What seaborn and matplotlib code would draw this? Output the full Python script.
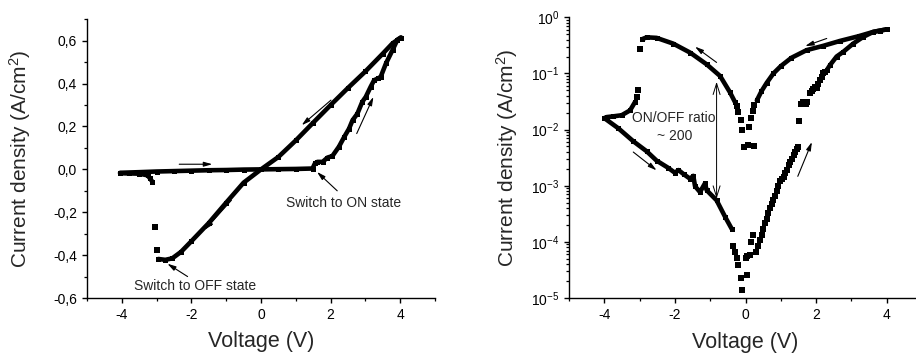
import numpy as np
import pandas as pd
import matplotlib
matplotlib.use("Agg")
import matplotlib.pyplot as plt
import seaborn as sns
from matplotlib.ticker import MultipleLocator, FuncFormatter, LogLocator, NullFormatter

# ---- left panel: linear I-V loop (voltage V, current density A/cm2) ----
off_fwd_v = [-4.05, -3.5, -3.0, -2.5, -2.0, -1.5, -1.0, -0.5, 0.0, 0.5, 1.0, 1.48]
off_fwd_j = [-0.016, -0.013, -0.010, -0.008, -0.006, -0.004, -0.003, -0.001, 0.0, 0.001, 0.002, 0.004]
on_fwd_v = [1.48, 1.55, 1.62, 1.77, 1.91, 2.05, 2.24, 2.39, 2.53, 2.63, 2.77, 2.91, 3.01,
            3.15, 3.25, 3.37, 3.44, 3.59, 3.78, 3.92, 4.02]
on_fwd_j = [0.004, 0.028, 0.035, 0.035, 0.055, 0.062, 0.106, 0.151, 0.19, 0.229, 0.26, 0.315, 0.338,
            0.385, 0.416, 0.425, 0.432, 0.494, 0.557, 0.605, 0.615]
on_rev_v = [4.02, 3.78, 3.5, 3.0, 2.5, 2.0, 1.5, 1.0, 0.5, 0.0, -0.5, -1.0, -1.5, -2.0, -2.3,
            -2.55, -2.75, -2.95]
on_rev_j = [0.615, 0.588, 0.54, 0.457, 0.38, 0.30, 0.218, 0.135, 0.058, 0.0, -0.062, -0.155, -0.25,
            -0.335, -0.385, -0.415, -0.422, -0.418]
off_tail_v = [-3.12, -3.2, -3.26, -3.5, -3.8, -4.05]
off_tail_j = [-0.058, -0.04, -0.028, -0.02, -0.019, -0.018]
jump_v = [-3.0, -3.05]
jump_j = [-0.378, -0.269]

# ---- right panel: same sweep, |J| on log scale ----
r_on_rev_v = [4.0, 3.62, 3.2, 2.68, 2.2, 1.73, 1.3, 1.0, 0.79, 0.6, 0.45, 0.32]
r_on_rev_j = [0.61, 0.55, 0.46, 0.38, 0.31, 0.26, 0.19, 0.135, 0.10, 0.068, 0.048, 0.033]
r_on_mid_v = [0.25, 0.20, 0.16, 0.11, 0.25, 0.06, -0.04, -0.09, -0.14, -0.20, -0.25]
r_on_mid_j = [0.027, 0.0215, 0.0163, 0.011, 0.005, 0.0054, 0.0049, 0.010, 0.015, 0.0205, 0.026]
r_on_neg_v = [-0.30, -0.44, -0.72, -1.1, -1.57, -2.05, -2.52, -2.8, -2.92]
r_on_neg_j = [0.031, 0.046, 0.09, 0.145, 0.235, 0.34, 0.43, 0.44, 0.41]
r_drop_v = [-2.99, -3.04, -3.08]
r_drop_j = [0.268, 0.050, 0.038]
r_tail_v = [-3.13, -3.27, -3.51, -3.75, -3.93, -4.0]
r_tail_j = [0.031, 0.022, 0.018, 0.0172, 0.0167, 0.016]
r_off_v = [-4.0, -3.6, -3.18, -2.8, -2.52, -2.2, -2.0, -1.9, -1.75, -1.57, -1.48, -1.43, -1.29,
           -1.15, -1.10, -0.82, -0.58, -0.39]
r_off_j = [0.016, 0.0105, 0.0062, 0.0041, 0.0028, 0.0021, 0.0017, 0.0019, 0.0016, 0.00133, 0.0015,
           0.00098, 0.00077, 0.0011, 0.00083, 0.00055, 0.00028, 0.00017]
r_low_v = [-0.35, -0.30, -0.25, -0.20, -0.14, -0.09, 0.05, 0.01, 0.04, 0.13, 0.16, 0.20, 0.30, 0.36,
           0.41, 0.46, 0.50, 0.55, 0.60, 0.65, 0.69, 0.74, 0.79, 0.84, 0.88, 0.93, 0.98, 1.03, 1.08,
           1.13, 1.17, 1.22, 1.26, 1.31, 1.36, 1.41, 1.45, 1.48]
r_low_j = [8.3e-5, 6.5e-5, 5.2e-5, 3.8e-5, 2.3e-5, 1.4e-5, 2.6e-5, 5.2e-5, 5.6e-5, 5.9e-5, 9.8e-5,
           1.35e-4, 6.5e-5, 8.3e-5, 1.1e-4, 1.35e-4, 1.7e-4, 2.2e-4, 2.6e-4, 3.3e-4, 4.0e-4, 4.7e-4,
           5.5e-4, 6.6e-4, 8.2e-4, 1.0e-3, 1.2e-3, 1.3e-3, 1.45e-3, 1.7e-3, 1.9e-3, 2.3e-3, 2.7e-3,
           3.0e-3, 3.5e-3, 4.0e-3, 4.5e-3, 4.9e-3]
r_sw_v = [1.52, 1.58, 1.62, 1.66, 1.70, 1.75, 1.83, 1.88, 1.92, 1.97, 2.02, 2.06, 2.11, 2.16, 2.20, 2.25]
r_sw_j = [0.0145, 0.029, 0.031, 0.030, 0.029, 0.031, 0.045, 0.048, 0.052, 0.058, 0.056, 0.065,
          0.076, 0.088, 0.10, 0.107]
r_on_fwd_v = [2.3, 2.39, 2.58, 2.77, 3.05, 3.34, 3.62, 3.81, 4.0]
r_on_fwd_j = [0.114, 0.14, 0.20, 0.243, 0.34, 0.45, 0.55, 0.58, 0.61]

sns.set_style("ticks")
plt.rcParams["font.family"] = ["Liberation Sans", "DejaVu Sans"]
plt.rcParams["mathtext.fontset"] = "custom"
plt.rcParams["mathtext.rm"] = "Liberation Sans"
plt.rcParams["mathtext.it"] = "Liberation Sans:italic"
plt.rcParams.update({
    "axes.unicode_minus": False,
    "axes.linewidth": 1.0, "axes.edgecolor": "black",
    "xtick.major.size": 3.6, "ytick.major.size": 3.6,
    "xtick.minor.size": 2.2, "ytick.minor.size": 2.2,
    "xtick.major.width": 1.0, "ytick.major.width": 1.0,
    "xtick.minor.width": 0.9, "ytick.minor.width": 0.9,
    "xtick.color": "black", "ytick.color": "black",
    "xtick.labelsize": 10, "ytick.labelsize": 10,
})

fig = plt.figure(figsize=(9.16, 3.53), dpi=100)
ax1 = fig.add_axes([0.0950, 0.1558, 0.3799, 0.7895])
ax2 = fig.add_axes([0.6212, 0.1558, 0.3854, 0.7952])


def dense(ax, x, y):
    sns.lineplot(x=x, y=y, ax=ax, sort=False, estimator=None, color="black", lw=3.3,
                 marker="s", ms=3.6, mew=0, legend=False)


def sparse(ax, x, y):
    sns.scatterplot(x=x, y=y, ax=ax, marker="s", s=13, color="black", linewidth=0, legend=False)


def arrow(ax, start, end, style="-|>,head_length=0.5,head_width=0.14", lw=0.8):
    ax.annotate("", xy=end, xytext=start,
                arrowprops=dict(arrowstyle=style, lw=lw, color="black", shrinkA=0, shrinkB=0))


# left panel
dense(ax1, off_fwd_v, off_fwd_j)
dense(ax1, on_fwd_v, on_fwd_j)
dense(ax1, on_rev_v, on_rev_j)
dense(ax1, off_tail_v, off_tail_j)
sparse(ax1, jump_v, jump_j)

ax1.set_xlim(-5, 5)
ax1.set_ylim(-0.6, 0.7)
ax1.xaxis.set_major_locator(MultipleLocator(2))
ax1.xaxis.set_minor_locator(MultipleLocator(1))
ax1.yaxis.set_major_locator(MultipleLocator(0.2))
ax1.yaxis.set_minor_locator(MultipleLocator(0.1))
ax1.yaxis.set_major_formatter(FuncFormatter(lambda v, _: f"{v:.1f}".replace(".", ",").replace("-0,0", "0,0")))

arrow(ax1, (-2.35, 0.024), (-1.40, 0.024))
arrow(ax1, (2.01, 0.323), (1.17, 0.206))
arrow(ax1, (2.75, 0.167), (3.23, 0.338))
arrow(ax1, (-0.85, -0.144), (-1.61, -0.281))
arrow(ax1, (2.19, -0.10), (1.61, -0.012))
arrow(ax1, (-2.11, -0.50), (-2.69, -0.44))
ax1.text(0.72, -0.158, "Switch to ON state", fontsize=10, ha="left", va="center")
ax1.text(-3.64, -0.542, "Switch to OFF state", fontsize=10, ha="left", va="center")

# right panel
ax2.set_yscale("log")
dense(ax2, r_on_rev_v, r_on_rev_j)
sparse(ax2, r_on_mid_v, r_on_mid_j)
dense(ax2, r_on_neg_v, r_on_neg_j)
sparse(ax2, r_drop_v, r_drop_j)
dense(ax2, r_tail_v, r_tail_j)
dense(ax2, r_off_v, r_off_j)
sparse(ax2, r_low_v, r_low_j)
sparse(ax2, r_sw_v, r_sw_j)
dense(ax2, r_on_fwd_v, r_on_fwd_j)

ax2.set_xlim(-5, 5)
ax2.set_ylim(1e-5, 1)
ax2.xaxis.set_major_locator(MultipleLocator(2))
ax2.xaxis.set_minor_locator(MultipleLocator(1))
ax2.yaxis.set_major_locator(LogLocator(base=10, numticks=10))
ax2.yaxis.set_minor_locator(LogLocator(base=10, subs=np.arange(2, 10), numticks=20))
ax2.yaxis.set_minor_formatter(NullFormatter())

arrow(ax2, (-0.82, 0.157), (-1.43, 0.30))
arrow(ax2, (2.30, 0.42), (1.69, 0.307))
arrow(ax2, (-3.18, 0.00398), (-2.52, 0.00188))
arrow(ax2, (1.48, 0.00147), (1.88, 0.006))
arrow(ax2, (-0.82, 0.071), (-0.82, 0.00059), style="<->,head_length=0.8,head_width=0.25", lw=0.7)
ax2.text(-2.02, 0.0158, "ON/OFF ratio", fontsize=10, ha="center", va="center")
ax2.text(-2.02, 0.0076, "~ 200", fontsize=10, ha="center", va="center")

for ax in (ax1, ax2):
    sns.despine(ax=ax)
    ax.set_xlabel("Voltage (V)", fontsize=15.5)
    ax.set_ylabel("Current density (A/cm$^\\mathdefault{2}$)", fontsize=15)
    ax.xaxis.set_label_coords(0.5, -0.12)
    ax.tick_params(which="both", direction="out")

ax1.yaxis.set_label_coords(-0.155, 0.5)
ax2.yaxis.set_label_coords(-0.139, 0.5)

fig.savefig("out.png", dpi=100)
